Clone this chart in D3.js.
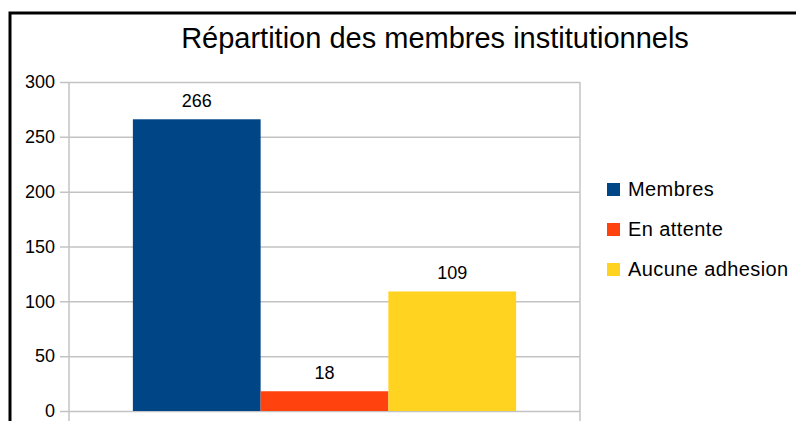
<!DOCTYPE html>
<html>
<head>
<meta charset="utf-8">
<script src="https://cdn.jsdelivr.net/npm/d3@7"></script>
<style>
  body { margin: 0; background: #fff; }
  svg { display: block; font-family: "Liberation Sans", Arial, sans-serif; }
</style>
</head>
<body>
<div id="chart"></div>
<script>
// données
var categories = ["Membres", "En attente", "Aucune adhesion"];
var values = [266, 18, 109];
var colors = ["#004586", "#ff420e", "#ffd320"];
var yTicks = [0, 50, 100, 150, 200, 250, 300];

var width = 796, height = 421;
var plot = { left: 69, right: 580, top: 82, bottom: 411 };

var svg = d3.select("#chart").append("svg")
    .attr("width", width)
    .attr("height", height);

// cadre
svg.append("rect")
    .attr("x", 10)
    .attr("y", 13)
    .attr("width", 800)
    .attr("height", 430)
    .attr("fill", "none")
    .attr("stroke", "#000")
    .attr("stroke-width", 3);

svg.append("text")
    .attr("x", 435)
    .attr("y", 48)
    .attr("font-size", "29px")
    .attr("fill", "#000")
    .style("text-anchor", "middle")
    .text("Répartition des membres institutionnels");

var y = d3.scaleLinear()
    .domain([0, 300])
    .range([plot.bottom, plot.top]);

// trois barres côte à côte, une demi-largeur vide de chaque côté
var x = d3.scaleBand()
    .domain(categories)
    .range([plot.left, plot.right])
    .paddingInner(0)
    .paddingOuter(0.5);

var grid = "#c3c3c3";

// grille horizontale + axe
var yAxis = d3.axisLeft(y)
    .tickValues(yTicks)
    .tickSize(-(plot.right - plot.left))
    .tickPadding(14);
var gy = svg.append("g")
    .attr("transform", "translate(" + plot.left + ",0)")
    .call(yAxis);
gy.select(".domain").remove();
gy.selectAll(".tick line")
    .attr("stroke", grid)
    .attr("stroke-width", 1.5)
    .attr("x1", -9);
gy.selectAll(".tick text")
    .attr("font-size", "18px")
    .attr("font-family", "Liberation Sans, Arial, sans-serif")
    .attr("fill", "#000");

// lignes verticales
[plot.left, plot.right].forEach(function(xx) {
    svg.append("line")
        .attr("x1", xx).attr("x2", xx)
        .attr("y1", plot.top).attr("y2", plot.bottom + 10)
        .attr("stroke", grid)
        .attr("stroke-width", 1.5);
});

svg.append("g")
    .selectAll("rect")
    .data(values)
    .enter()
    .append("rect")
    .attr("x", function(d, i) { return x(categories[i]); })
    .attr("y", function(d) { return y(d); })
    .attr("width", x.bandwidth())
    .attr("height", function(d) { return y(0) - y(d); })
    .attr("fill", function(d, i) { return colors[i]; });

svg.append("g")
    .selectAll("text")
    .data(values)
    .enter()
    .append("text")
    .attr("x", function(d, i) { return x(categories[i]) + x.bandwidth() / 2; })
    .attr("y", function(d) { return y(d) - 12; })
    .attr("font-size", "18px")
    .attr("fill", "#000")
    .style("text-anchor", "middle")
    .text(function(d) { return d; });

// légende
var legend = svg.append("g")
    .selectAll("g")
    .data(categories)
    .enter()
    .append("g")
    .attr("transform", function(d, i) { return "translate(607," + (189.5 + i * 40) + ")"; });
legend.append("rect")
    .attr("x", 0)
    .attr("y", -6.5)
    .attr("width", 13)
    .attr("height", 13)
    .attr("fill", function(d, i) { return colors[i]; });
legend.append("text")
    .attr("x", 21)
    .attr("y", 6.5)
    .attr("font-size", "20px")
    .attr("letter-spacing", "0.4px")
    .attr("fill", "#000")
    .text(function(d) { return d; });
</script>
</body>
</html>
